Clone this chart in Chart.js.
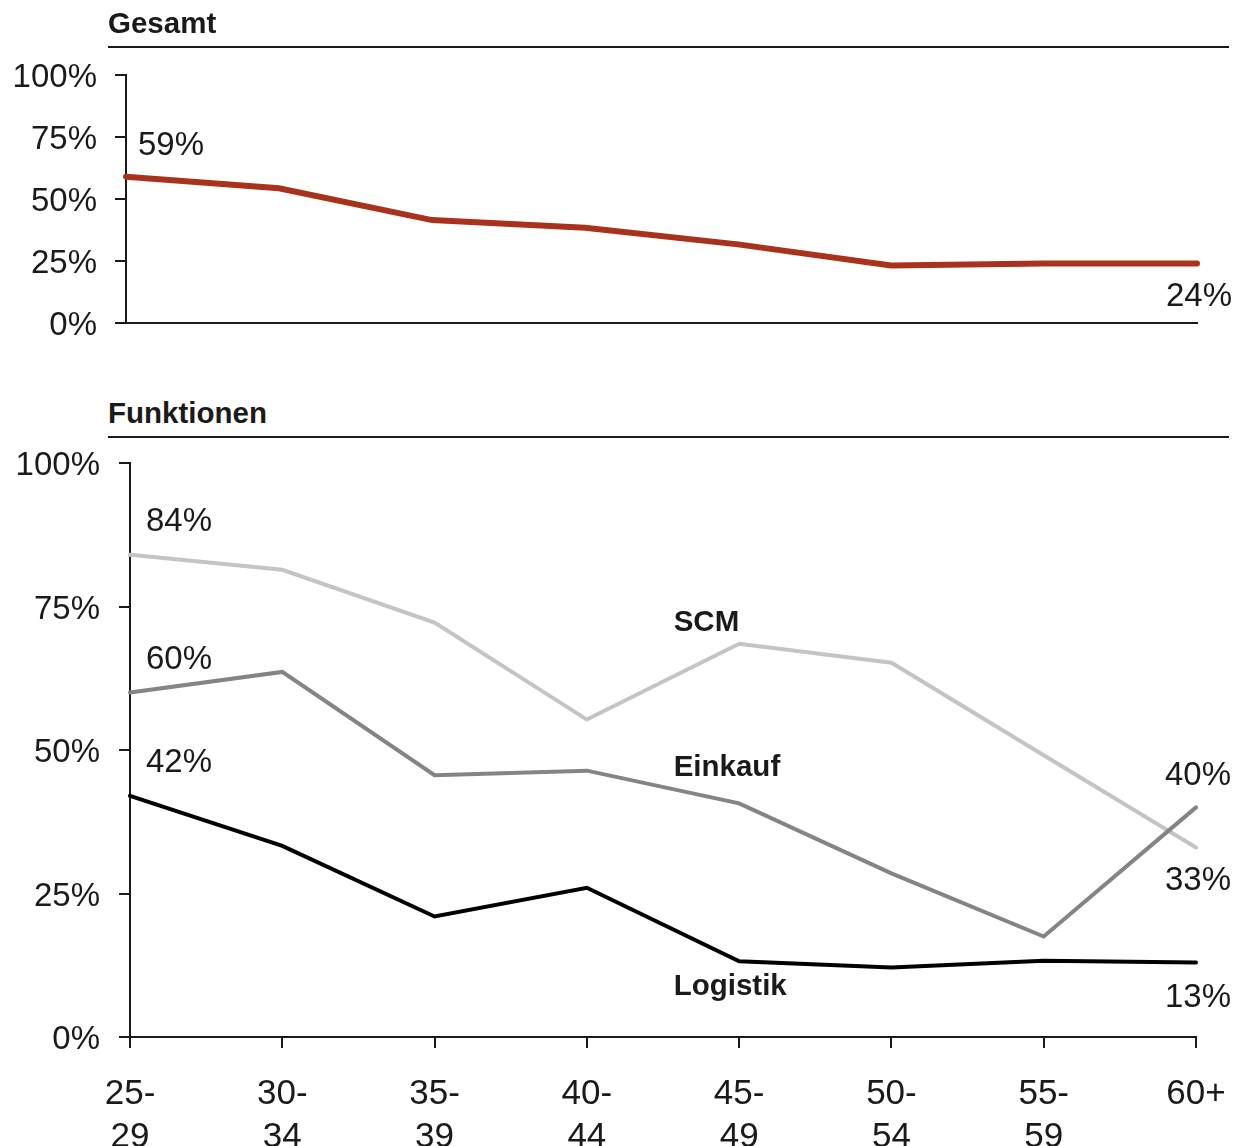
<!DOCTYPE html>
<html>
<head>
<meta charset="utf-8">
<script src="https://cdn.jsdelivr.net/npm/chart.js@4.4.0/dist/chart.umd.min.js"></script>
<style>
  body { margin: 0; background: #fff; width: 1236px; height: 1146px; position: relative; overflow: hidden;
         font-family: "Liberation Sans", Arial, sans-serif; }
  canvas { position: absolute; left: 0; }
  #chartTop { top: 0; }
  #chartBottom { top: 440px; }
  .head { position: absolute; left: 108px; width: 1121px; font-size: 29.5px; font-weight: bold; line-height: 28px;
          color: #1a1a1a; border-bottom: 2px solid #1a1a1a; padding-bottom: 9px; }
</style>
</head>
<body>
<canvas id="chartTop" width="1236" height="360"></canvas>
<canvas id="chartBottom" width="1236" height="706"></canvas>
<div class="head" style="top:9px">Gesamt</div>
<div class="head" style="top:399px">Funktionen</div>

<script>
// Altersgruppen
const ages = ['25-29', '30-34', '35-39', '40-44', '45-49', '50-54', '55-59', '60+'];
const yTicks = [0, 25, 50, 75, 100];

// Anteile in %
const gesamt = [59, 54.3, 41.5, 38.4, 31.7, 23.2, 24, 24];
const scm = [84, 81.4, 72.2, 55.3, 68.5, 65.2, 49.1, 33];
const einkauf = [60, 63.6, 45.6, 46.4, 40.7, 28.5, 17.5, 40];
const logistik = [42, 33.3, 21.0, 26.0, 13.2, 12.1, 13.3, 13];

const FONT = '"Liberation Sans", Arial, sans-serif';
const INK = '#1a1a1a';
Chart.defaults.font.family = FONT;
Chart.defaults.color = INK;

// Prozentwerte an Anfang/Ende der Linien und Reihennamen
const labelPlugin = {
  id: 'lineLabels',
  afterDatasetsDraw(chart, args, opts) {
    const ctx = chart.ctx;
    ctx.save();
    ctx.fillStyle = INK;
    ctx.textBaseline = 'middle';
    (opts.values || []).forEach(it => {
      const pt = chart.getDatasetMeta(it.dataset).data[it.index];
      const v = chart.data.datasets[it.dataset].data[it.index];
      ctx.font = '33px ' + FONT;
      ctx.textAlign = it.align;
      ctx.fillText(Math.round(v) + '%', pt.x + it.dx, pt.y + it.dy);
    });
    const xs = chart.scales.x, ys = chart.scales.y;
    (opts.names || []).forEach(it => {
      ctx.font = 'bold 29.5px ' + FONT;
      ctx.textAlign = 'left';
      ctx.fillText(it.text, xs.getPixelForValue(it.at), ys.getPixelForValue(it.y));
    });
    ctx.restore();
  }
};

function yAxis(width, pad) {
  return {
    min: 0, max: 100,
    afterBuildTicks: s => { s.ticks = yTicks.map(v => ({ value: v })); },
    afterFit: s => { s.width = width; s.paddingTop = 0; s.paddingBottom = 0; },
    border: { color: INK, width: 2 },
    grid: { drawOnChartArea: false, tickLength: 11, color: INK, lineWidth: 2 },
    ticks: { font: { size: 33 }, padding: pad, labelOffset: 3, callback: v => v + '%' }
  };
}

// Gesamt
new Chart(document.getElementById('chartTop'), {
  type: 'line',
  data: {
    labels: ages,
    datasets: [{
      label: 'Gesamt',
      data: gesamt,
      borderColor: '#a9321c',
      borderWidth: 6,
      borderCapStyle: 'round',
      pointRadius: 0,
      tension: 0
    }]
  },
  options: {
    responsive: false,
    animation: false,
    layout: { padding: { top: 75, right: 39, left: 0, bottom: 0 } },
    plugins: {
      legend: { display: false },
      tooltip: { enabled: false },
      lineLabels: {
        values: [
          { dataset: 0, index: 0, dx: 12, dy: -31, align: 'left' },
          { dataset: 0, index: 7, dx: 35, dy: 33, align: 'right' }
        ]
      }
    },
    scales: {
      x: {
        afterFit: s => { s.height = 37; s.paddingLeft = 0; s.paddingRight = 0; },
        border: { color: INK, width: 2 },
        grid: { drawOnChartArea: false, drawTicks: false },
        ticks: { display: false }
      },
      y: yAxis(126, 18)
    }
  },
  plugins: [labelPlugin]
});

// Funktionen
new Chart(document.getElementById('chartBottom'), {
  type: 'line',
  data: {
    labels: ages,
    datasets: [
      { label: 'Logistik', data: logistik, borderColor: '#000000' },
      { label: 'Einkauf', data: einkauf, borderColor: '#848484' },
      { label: 'SCM', data: scm, borderColor: '#c4c4c4' }
    ].map(d => Object.assign(d, { borderWidth: 4, borderCapStyle: 'round', pointRadius: 0, tension: 0 }))
  },
  options: {
    responsive: false,
    animation: false,
    layout: { padding: { top: 23, right: 40, left: 0, bottom: 0 } },
    plugins: {
      legend: { display: false },
      tooltip: { enabled: false },
      lineLabels: {
        values: [
          { dataset: 2, index: 0, dx: 16, dy: -33, align: 'left' },
          { dataset: 1, index: 0, dx: 16, dy: -33, align: 'left' },
          { dataset: 0, index: 0, dx: 16, dy: -33, align: 'left' },
          { dataset: 1, index: 7, dx: 35, dy: -31, align: 'right' },
          { dataset: 2, index: 7, dx: 35, dy: 33, align: 'right' },
          { dataset: 0, index: 7, dx: 35, dy: 36, align: 'right' }
        ],
        names: [
          { text: 'SCM', at: 3.57, y: 72.1 },
          { text: 'Einkauf', at: 3.57, y: 46.9 },
          { text: 'Logistik', at: 3.57, y: 8.7 }
        ]
      }
    },
    scales: {
      x: {
        afterFit: s => { s.height = 109; s.paddingLeft = 0; s.paddingRight = 0; },
        border: { color: INK, width: 2 },
        grid: { drawOnChartArea: false, tickLength: 11, color: INK, lineWidth: 2 },
        ticks: {
          font: { size: 35, lineHeight: 43 / 35 },
          padding: 25,
          maxRotation: 0,
          autoSkip: false,
          callback: function (v) {
            const l = this.getLabelForValue(v);
            const p = l.split('-');
            return p.length > 1 ? [p[0] + '-', p[1]] : l;
          }
        }
      },
      y: yAxis(130, 19)
    }
  },
  plugins: [labelPlugin]
});
</script>
</body>
</html>
